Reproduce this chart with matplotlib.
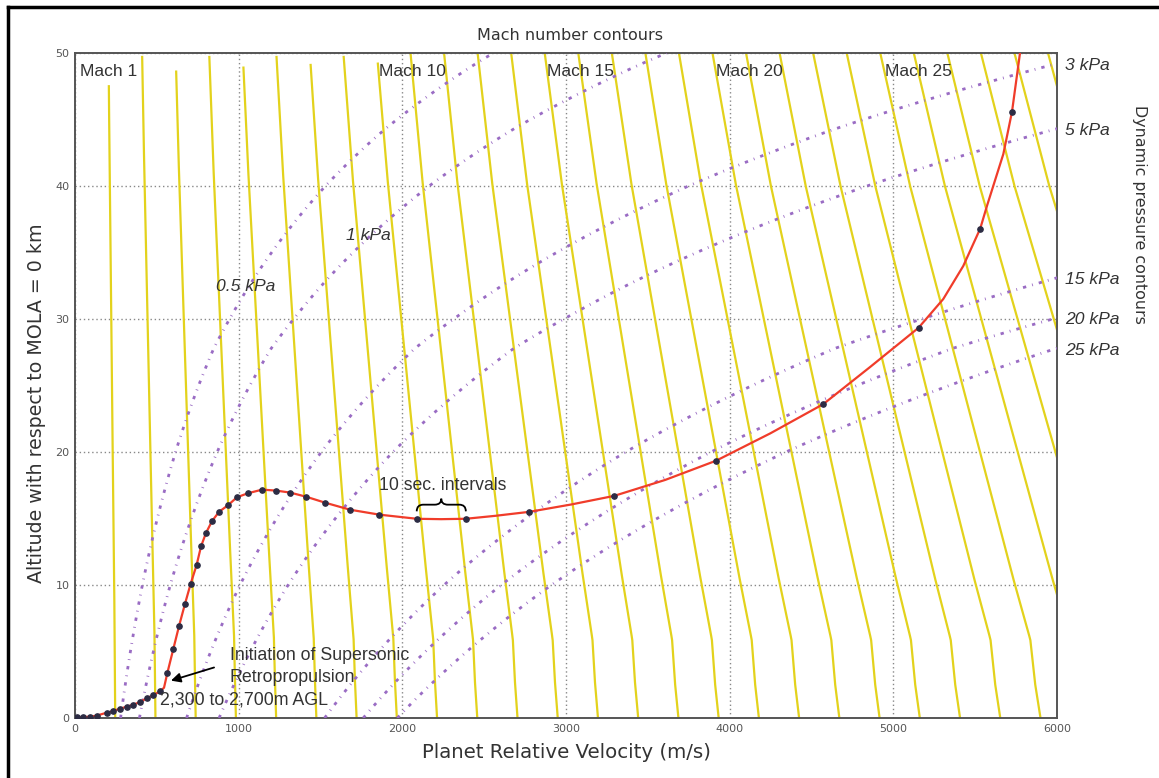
import numpy as np
import matplotlib.pyplot as plt
from matplotlib.lines import Line2D
from matplotlib.path import Path
from matplotlib.patches import PathPatch

plt.rcParams['font.family'] = ['DejaVu Sans']
NOTE_FONT = ['Liberation Sans', 'DejaVu Sans']

# speed of sound profile (km, m/s)
alt_a = [0, 2.4, 5.9, 10, 16.4, 30, 40, 50]
sound_speed = [245.8, 244.5, 243.2, 239.3, 233.6, 221.5, 212.6, 205.0]
mach_numbers = list(range(1, 31))
mach_top = [47.5, 49.7, 48.6, 49.7, 48.9, 49.7, 49.1, 49.7, 49.2] + [50] * 21
mach_labels = [1, 10, 15, 20, 25]

# density profile (km, kg/m3)
alt_rho = [0, 10, 20, 27.8, 30.1, 33.1, 40, 44.3, 49.2, 50]
density = [0.0129, 5.9e-3, 2.65e-3, 1.39e-3, 1.11e-3, 8.33e-4, 4.27e-4, 2.78e-4, 1.667e-4, 1.53e-4]
q_kpa = [0.5, 1, 3, 5, 15, 20, 25]
q_right = [3, 5, 15, 20, 25]
q_inline = {0.5: 32.6, 1: 36.4}

# trajectory, entry to landing (m/s, km)
traj_v = [5785, 5725, 5672, 5572, 5531, 5427, 5305, 5154, 4859, 4572, 4248, 3918, 3606, 3294,
          3030, 2775, 2567, 2388, 2237, 2088, 1860, 1681, 1528, 1412, 1314, 1228, 1143, 1057,
          990, 935, 880, 837, 800, 770, 743, 707, 672, 636, 601, 564, 544, 519, 478, 438, 397,
          356, 316, 275, 234, 194, 132, 92, 51, 0]
traj_alt = [51.0, 45.58, 42.4, 38.5, 36.8, 33.98, 31.5, 29.34, 26.4, 23.6, 21.4, 19.35, 17.9,
            16.7, 16.05, 15.5, 15.2, 14.98, 14.95, 14.98, 15.29, 15.66, 16.19, 16.64, 16.95,
            17.1, 17.17, 16.9, 16.6, 16.0, 15.5, 14.8, 13.9, 12.9, 11.5, 10.1, 8.58, 6.93, 5.2,
            3.37, 2.28, 2.0, 1.72, 1.48, 1.2, 1.0, 0.85, 0.7, 0.53, 0.4, 0.18, 0.1, 0.07, 0.05]

# 10 s markers
dot_v = [5725, 5531, 5154, 4572, 3918, 3294, 2775, 2388, 2088, 1860, 1681, 1528, 1412, 1314,
         1228, 1143, 1057, 990, 935, 880, 837, 800, 770, 743, 707, 672, 636, 601, 564,
         519, 478, 438, 397, 356, 316, 275, 234, 194, 132, 92, 51, 10]
dot_alt = [45.58, 36.8, 29.34, 23.6, 19.35, 16.7, 15.5, 14.98, 14.98, 15.29, 15.66, 16.19,
           16.64, 16.95, 17.1, 17.17, 16.9, 16.6, 16.0, 15.5, 14.8, 13.9, 12.9, 11.5, 10.1,
           8.58, 6.93, 5.2, 3.37, 2.0, 1.72, 1.48, 1.2, 1.0, 0.85, 0.7, 0.53, 0.4, 0.18, 0.1,
           0.07, 0.05]

yellow = '#e3d21c'
purple = '#9a6cc4'
red = '#f03c2a'
txt = '#333333'

fig = plt.figure(figsize=(11.59, 7.78), dpi=100)
ax = fig.add_axes([0.0647, 0.0771, 0.8473, 0.8548])

# Mach contours
for m, top in zip(mach_numbers, mach_top):
    h = np.linspace(0, top, 300)
    ax.plot(m * np.interp(h, alt_a, sound_speed), h, color=yellow, lw=1.6, zorder=2)

# dynamic pressure contours
log_rho = np.log(density)
for q in q_kpa:
    h = np.linspace(0, 50, 400)
    rho = np.exp(np.interp(h, alt_rho, log_rho))
    v = np.sqrt(2 * q * 1000 / rho)
    ax.plot(v, h, color=purple, lw=2.0, ls=(0, (1.2, 2.2, 0.3, 2.2)), zorder=3)

# trajectory
ax.plot(traj_v, traj_alt, color=red, lw=1.6, zorder=4)
ax.plot(dot_v, dot_alt, ls='none', marker='o', ms=3.8, color='#2c2c44', zorder=5)

ax.set_xlim(0, 6000)
ax.set_ylim(0, 50)
ax.set_xticks(range(0, 6001, 1000))
ax.set_yticks(range(0, 51, 10))
ax.grid(True, color='#888888', ls=(0, (1, 2)), lw=1.0)
ax.set_axisbelow(True)
ax.tick_params(length=0, labelsize=8, labelcolor='#555555', pad=4)
for s in ax.spines.values():
    s.set_color('#555555')
    s.set_linewidth(1.4)

fig.text(566 / 1159, 1 - 752 / 778, 'Planet Relative Velocity (m/s)', fontsize=14.2,
         color=txt, ha='center', va='center')
fig.text(36.5 / 1159, 1 - 403 / 778, 'Altitude with respect to MOLA = 0 km', fontsize=13.7,
         color=txt, ha='center', va='center', rotation=90)
fig.text(570 / 1159, 1 - 35 / 778, 'Mach number contours', fontsize=11.5, color=txt,
         ha='center', va='center')
fig.text(1140 / 1159, 1 - 214 / 778, 'Dynamic pressure contours', rotation=-90,
         fontsize=11.4, color=txt, ha='center', va='center')

# Mach labels
for m in mach_labels:
    ax.text(m * np.interp(48.6, alt_a, sound_speed), 48.6, 'Mach %d' % m, fontsize=12.5,
            family=NOTE_FONT, color=txt, ha='center', va='center', zorder=6)

# kPa labels
for q in q_right:
    target = np.log(2 * q * 1000 / 6000 ** 2)
    h_edge = np.interp(target, log_rho[::-1], np.array(alt_rho)[::-1])
    ax.text(6000 + 50, h_edge - 0.15, '%g kPa' % q, fontsize=12.6, style='italic',
            family=NOTE_FONT, color=txt, ha='left', va='center', clip_on=False)
for q, h in q_inline.items():
    rho = np.exp(np.interp(h, alt_rho, log_rho))
    ax.text(np.sqrt(2 * q * 1000 / rho) - 25, h - 0.15, '%g kPa' % q, fontsize=12.6,
            style='italic', family=NOTE_FONT, color=txt, ha='center', va='center', zorder=6)

# 10 s interval brace between two markers
x0, x1 = dot_v[8], dot_v[7]
yb = 16.04
xm = (x0 + x1) / 2
verts = [(x0, yb - 0.5), (x0, yb), (x0 + 40, yb), (xm - 40, yb), (xm, yb), (xm, yb + 0.45),
         (xm, yb), (xm + 40, yb), (x1 - 40, yb), (x1, yb), (x1, yb - 0.5)]
codes = [Path.MOVETO, Path.CURVE3, Path.CURVE3, Path.LINETO, Path.CURVE3, Path.CURVE3,
         Path.CURVE3, Path.CURVE3, Path.LINETO, Path.CURVE3, Path.CURVE3]
ax.add_patch(PathPatch(Path(verts, codes), fill=False, color='black', lw=1.3, zorder=6))
ax.text(xm + 10, 17.5, '10 sec. intervals', fontsize=12.7, family=NOTE_FONT, color=txt,
        ha='center', va='center', zorder=6)

# retropropulsion note
ax.annotate('', xy=(570, 2.75), xytext=(866, 3.86),
            arrowprops=dict(arrowstyle='-|>', color='black', lw=1.3, mutation_scale=14),
            zorder=6)
ax.text(947, 3.86, 'Initiation of Supersonic\nRetropropulsion', fontsize=12.8,
        family=NOTE_FONT, color=txt, ha='left', va='center', linespacing=1.38, zorder=6)
ax.text(520, 1.36, '2,300 to 2,700m AGL', fontsize=12.8, family=NOTE_FONT, color=txt,
        ha='left', va='center', zorder=6)

# outer frame (left and top edges)
fig.add_artist(Line2D([0.007, 0.007], [0, 0.991], color='black', lw=2.5))
fig.add_artist(Line2D([0.007, 1.0], [0.991, 0.991], color='black', lw=2.5))

fig.savefig('out.png', dpi=100)
